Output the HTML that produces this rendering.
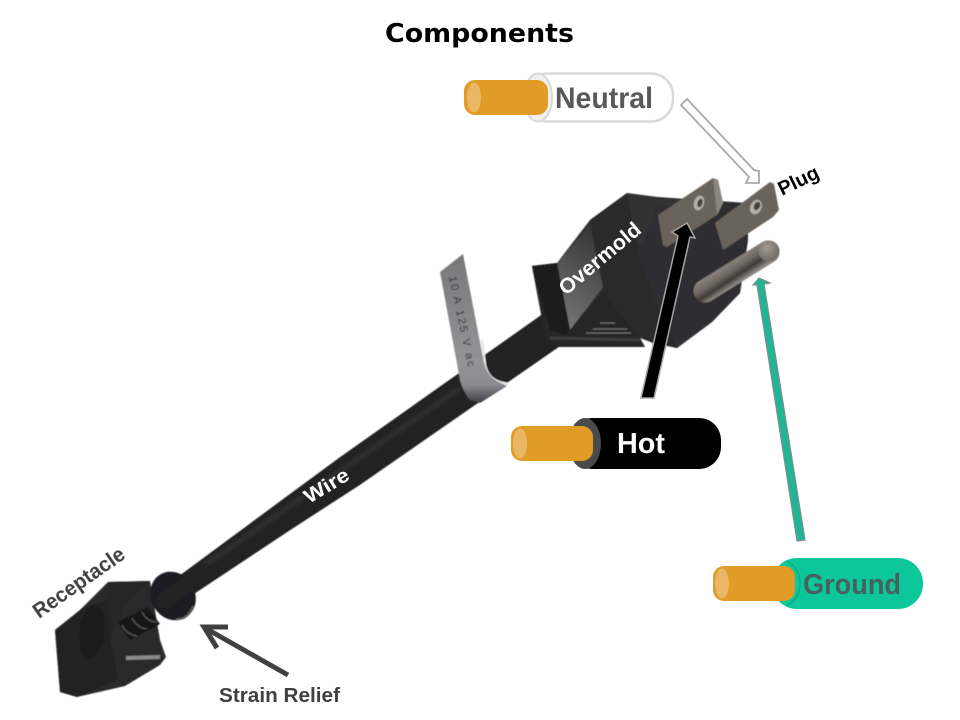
<!DOCTYPE html>
<html><head><meta charset="utf-8"><style>html,body{margin:0;padding:0;background:#fff}svg{display:block}text{font-family:"Liberation Sans",sans-serif;font-weight:bold}</style></head>
<body>
<svg width="960" height="720" viewBox="0 0 960 720" xmlns="http://www.w3.org/2000/svg">
<defs>
<filter id="soft" x="-5%" y="-5%" width="110%" height="110%"><feGaussianBlur stdDeviation="0.6"/></filter>
<filter id="soft2" x="-20%" y="-20%" width="140%" height="140%"><feGaussianBlur stdDeviation="1.5"/></filter>
<linearGradient id="panel" x1="0.5" y1="0" x2="0.2" y2="1"><stop offset="0" stop-color="#383838"/><stop offset=".45" stop-color="#555"/><stop offset="1" stop-color="#777"/></linearGradient>
<linearGradient id="face" x1="0" y1="0" x2="1" y2="1"><stop offset="0" stop-color="#363637"/><stop offset="1" stop-color="#272727"/></linearGradient>
<linearGradient id="pin" gradientUnits="userSpaceOnUse" x1="728" y1="261" x2="741" y2="281"><stop offset="0" stop-color="#8f8983"/><stop offset=".45" stop-color="#6d665f"/><stop offset=".72" stop-color="#3f3a36"/><stop offset="1" stop-color="#8f8983"/></linearGradient>
<radialGradient id="ball" cx=".4" cy=".35" r=".7"><stop offset="0" stop-color="#a29c95"/><stop offset="1" stop-color="#6d665f"/></radialGradient>
<linearGradient id="tag" x1="0" y1="0" x2="0" y2="1"><stop offset="0" stop-color="#78787a"/><stop offset=".72" stop-color="#949497"/><stop offset=".88" stop-color="#8a8a90"/><stop offset="1" stop-color="#3e3e46"/></linearGradient>
</defs>

<text x="385" y="42" font-size="26" fill="#000" textLength="189" lengthAdjust="spacingAndGlyphs" style="font-family:'DejaVu Sans',sans-serif">Components</text>

<g filter="url(#soft)">
<!-- wire -->
<path d="M158.7 591 L273.7 506 L340.2 457 L549.7 309 L570.3 339 L359.8 485 L290.3 530 L171.3 609 Z" fill="#242424"/>
<path d="M205 565 L460 388" stroke="#333" stroke-width="4" fill="none" filter="url(#soft2)"/>

<!-- tag -->
<path d="M482 340 L485 365 Q488 380 503 383 L508 384" stroke="#e6e6ec" stroke-width="2.5" fill="none"/>
<path d="M440 272 L463 254 L483 358 Q486 378 503 384 L507 386 L480 403 L470 400 Q463 392 460 380 Z" fill="url(#tag)"/>
<text transform="translate(449,277) rotate(78)" font-size="11" fill="#2c2c2c" style="font-weight:normal" textLength="92">10 A 125 V ac</text>

<!-- plug body -->
<path d="M532 266 L557 263 L590 220 L627 193 L658 197 L748 203 L748 240 L740 293 L712 322 L677 348 L653 343 L640 338 L645 347 L558 347 L545 335 Z" fill="url(#face)"/>
<path d="M627 193 L590 220 L603 290 L625 320 L653 343 L677 348 L655 300 L640 260 Z" fill="#2a2a2b"/>
<path d="M640 250 L658 205 L748 203 L748 240 L740 293 L712 322 L677 348 L655 300 Z" fill="#2f2f30"/>
<path d="M557 263 L590 225 L603 287 L570 330 Z" fill="url(#panel)"/>
<path d="M532 266 L557 263 L570 330 L603 292 L640 338 L645 347 L558 347 L545 335 Z" fill="#272727"/>
<path d="M532 266 L557 263 L570 330 L566 335 L550 330 Z" fill="#1e1e1e"/>
<path d="M550 338 L640 340" stroke="#3c3c3c" stroke-width="3" fill="none"/>
<path d="M600 323 H615 M593 329 H627 M586 333 H631" stroke="#6f6f6f" stroke-width="1.3" fill="none"/>

<!-- blades -->
<path d="M658 215 L713 178 L718 180 L723 203 L717 215 L667 247 L663 245 Z" fill="#6a635c"/>
<path d="M717 215 L723 203 L718 180 L713 178 L716 205 Z" fill="#8c857e"/>
<ellipse cx="699" cy="203" rx="5" ry="7.5" transform="rotate(15 699 203)" fill="#b8b1a9"/>
<ellipse cx="700" cy="203" rx="2.5" ry="4.5" transform="rotate(15 700 203)" fill="#4a453f"/>
<path d="M715 223 L770 182 L774 184 L779 210 L773 217 L723 250 Z" fill="#6a635c"/>
<ellipse cx="756" cy="207" rx="5.5" ry="7.5" transform="rotate(25 756 207)" fill="#b8b1a9"/>
<ellipse cx="757" cy="206" rx="3" ry="4.5" transform="rotate(25 757 206)" fill="#4a453f"/>
<!-- ground pin -->
<path d="M705 291 L768 252" stroke="url(#pin)" stroke-width="23" stroke-linecap="round" fill="none"/>
<circle cx="769" cy="251" r="10.5" fill="url(#ball)"/>

<!-- receptacle -->
<path d="M55 630 L80 610 L108 582 L150 581 L160 640 L166 657 L160 665 L125 686 L77 697 L60 692 Z" fill="#2b2b2c"/>
<path d="M55 630 L80 610 L82 608 L108 600 L110 640 L118 680 L77 697 L60 692 Z" fill="#232323"/>
<path d="M108 582 L150 581 L125 605 L110 640 L108 600 Z" fill="#262627"/>
<ellipse cx="92" cy="632" rx="12.5" ry="27" transform="rotate(6 92 632)" fill="#1c1c1c"/>
<path d="M126 658 L160 657" stroke="#8a8a8a" stroke-width="4" fill="none"/>
<path d="M118 622 L148 607 L160 624 L130 640 Z" fill="#171717"/>
<path d="M122 625 Q127 635 137 636 M132 618 Q137 628 147 629 M142 612 Q147 622 157 622" stroke="#505050" stroke-width="1.6" fill="none"/>
<ellipse cx="173" cy="596" rx="22" ry="25" transform="rotate(-30 173 596)" fill="#1f1f20"/>
<path d="M176 619 Q188 620 193 606" stroke="#5c5c5c" stroke-width="2" fill="none"/>
<path d="M165 600 L205 572" stroke="#242424" stroke-width="17" stroke-linecap="round" fill="none"/>
</g>

<!-- neutral arrow -->
<path d="M687 99 L754 170 L759 171 L759 183 L746 183 L749 177 L681 105 Z" fill="#fff" stroke="#a9a9a9" stroke-width="1.8"/>
<!-- hot arrow -->
<path d="M641 398 L654 398 L690 237 L695 238 L687 223 L672 232 L678 236 Z" fill="#000" stroke="#a5a5a5" stroke-width="1.5"/>
<!-- ground arrow -->
<path d="M797 541 L805 540 L764 284 L770 283 L759 278 L753 285 L757 285 Z" fill="#1fb596" stroke="#7f8f8a" stroke-width="1.2"/>
<!-- strain arrow -->
<path d="M288 675 L205 628 M228 627 L204 627 L217 648" stroke="#404040" stroke-width="5" fill="none"/>

<!-- neutral wire -->
<rect x="526" y="73.5" width="147" height="48" rx="22" fill="#fff" stroke="#d9d9d9" stroke-width="2.5"/>
<ellipse cx="538" cy="97.5" rx="14" ry="24" fill="#f0f0f0" stroke="#d9d9d9" stroke-width="2"/>
<rect x="464" y="80" width="84" height="35" rx="11" fill="#e09c27"/>
<ellipse cx="474" cy="97.5" rx="7" ry="15" fill="#e9b765"/>
<text x="555" y="108" font-size="30" fill="#595959" textLength="98" lengthAdjust="spacingAndGlyphs">Neutral</text>

<!-- hot wire -->
<rect x="570" y="418" width="151" height="51" rx="22" fill="#000"/>
<ellipse cx="585" cy="443.5" rx="16" ry="25.5" fill="#4a4a4a"/>
<rect x="511" y="426" width="82" height="35" rx="11" fill="#e09c27"/>
<ellipse cx="520" cy="443.5" rx="7" ry="15" fill="#e9b765"/>
<text x="617" y="453" font-size="29" fill="#fff" textLength="48" lengthAdjust="spacingAndGlyphs">Hot</text>

<!-- ground wire -->
<rect x="772" y="558" width="151" height="51" rx="25" fill="#0cc79a"/>
<path d="M786 561 Q800 568 800 583.5 Q800 599 786 606" fill="none" stroke="#0ba985" stroke-width="1.5"/>
<rect x="713" y="566" width="82" height="35" rx="11" fill="#e09c27"/>
<ellipse cx="722" cy="583.5" rx="7" ry="15" fill="#e9b765"/>
<text x="803" y="594" font-size="29" fill="#48615f" textLength="98" lengthAdjust="spacingAndGlyphs">Ground</text>

<!-- rotated labels -->
<text transform="translate(782,196) rotate(-26)" font-size="20" fill="#000" textLength="43" lengthAdjust="spacingAndGlyphs">Plug</text>
<text transform="translate(566,296) rotate(-40)" font-size="21" fill="#fff" textLength="100" lengthAdjust="spacingAndGlyphs">Overmold</text>
<text transform="translate(309,504) rotate(-31)" font-size="20" fill="#fff" textLength="49" lengthAdjust="spacingAndGlyphs">Wire</text>
<text transform="translate(39,619) rotate(-35)" font-size="21" fill="#404040" textLength="107" lengthAdjust="spacingAndGlyphs">Receptacle</text>
<text x="219" y="702" font-size="20" fill="#404040" textLength="121" lengthAdjust="spacingAndGlyphs">Strain Relief</text>
</svg>
</body></html>
